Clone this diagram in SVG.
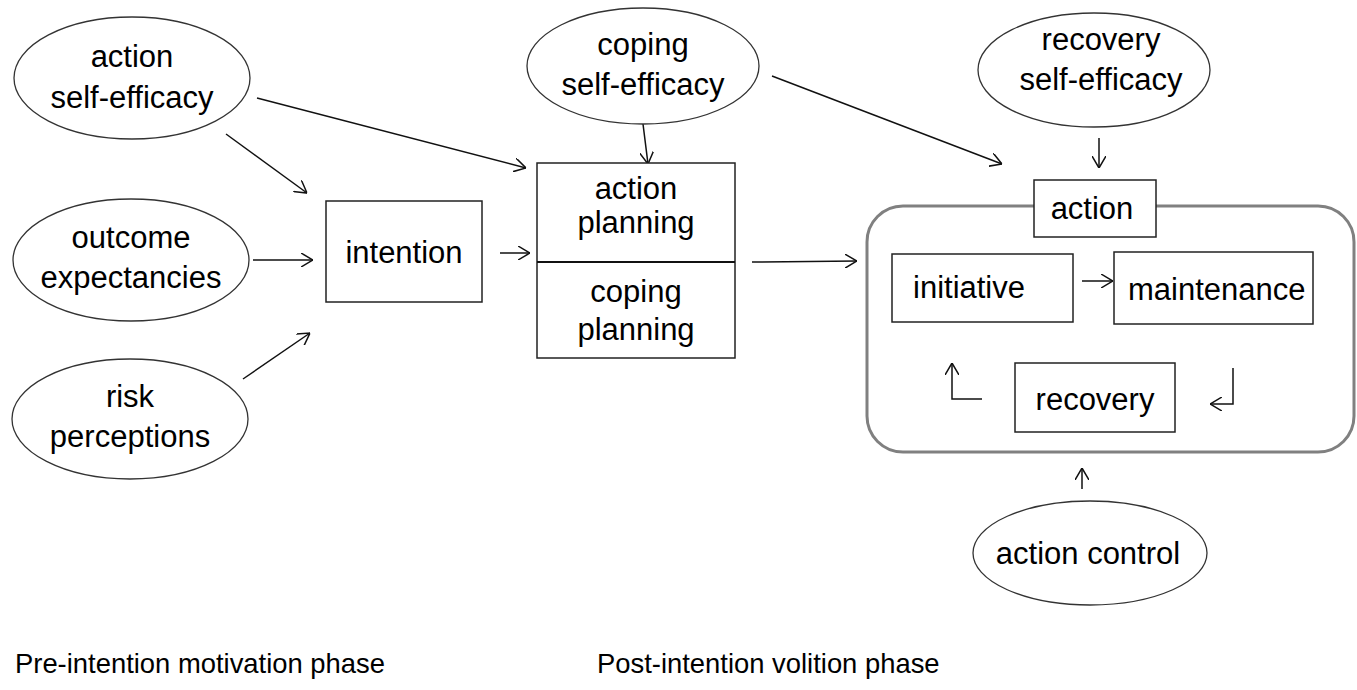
<svg xmlns="http://www.w3.org/2000/svg" width="1357" height="690" viewBox="0 0 1357 690">
<style>
  .ell { fill: #fff; stroke: #333; stroke-width: 1.3; }
  .box { fill: #fff; stroke: #222; stroke-width: 1.5; }
  .lbl { font-family: "Liberation Sans", Arial, sans-serif; font-size: 31px; fill: #000; text-anchor: middle; }
  .lbls { font-family: "Liberation Sans", Arial, sans-serif; font-size: 31px; fill: #000; text-anchor: start; }
  .phase { font-family: "Liberation Sans", Arial, sans-serif; font-size: 27.4px; fill: #000; }
  .con { fill: none; stroke: #111; stroke-width: 1.5; }
</style>
<defs>
  <marker id="arr" viewBox="0 0 12 14" refX="12" refY="7" markerWidth="12" markerHeight="14" markerUnits="userSpaceOnUse" orient="auto">
    <path d="M0,0 L12,7 L0,14" fill="none" stroke="#111" stroke-width="1.5"/>
  </marker>
</defs>
<rect width="1357" height="690" fill="#fff"/>

<g id="action-frame">
  <rect x="867" y="206" width="487" height="246" rx="36" ry="36" fill="#fff" stroke="#808080" stroke-width="3"/>
</g>

<g id="connectors">
  <line class="con" x1="226" y1="134" x2="307" y2="193" marker-end="url(#arr)"/>
  <line class="con" x1="253" y1="260" x2="313" y2="260" marker-end="url(#arr)"/>
  <line class="con" x1="243" y1="379" x2="310" y2="333" marker-end="url(#arr)"/>
  <line class="con" x1="257" y1="98" x2="526" y2="168" marker-end="url(#arr)"/>
  <line class="con" x1="643" y1="124" x2="648" y2="164" marker-end="url(#arr)"/>
  <line class="con" x1="500" y1="253" x2="530" y2="253" marker-end="url(#arr)"/>
  <line class="con" x1="752" y1="262" x2="857" y2="261" marker-end="url(#arr)"/>
  <line class="con" x1="772" y1="76" x2="1002" y2="164" marker-end="url(#arr)"/>
  <line class="con" x1="1099" y1="138" x2="1099" y2="168" marker-end="url(#arr)"/>
  <line class="con" x1="1082" y1="281" x2="1113" y2="281" marker-end="url(#arr)"/>
  <polyline class="con" points="982,399 952,399 952,363" marker-end="url(#arr)"/>
  <polyline class="con" points="1233,368 1233,404 1210,404" marker-end="url(#arr)"/>
  <line class="con" x1="1082" y1="489" x2="1082" y2="468" marker-end="url(#arr)"/>
</g>

<g id="action-self-efficacy">
  <ellipse class="ell" cx="132" cy="78" rx="118" ry="61"/>
  <text class="lbl" x="132" y="67">action</text>
  <text class="lbl" x="132" y="108">self-efficacy</text>
</g>
<g id="outcome-expectancies">
  <ellipse class="ell" cx="131" cy="260" rx="118" ry="61"/>
  <text class="lbl" x="131" y="248">outcome</text>
  <text class="lbl" x="131" y="288">expectancies</text>
</g>
<g id="risk-perceptions">
  <ellipse class="ell" cx="130" cy="419" rx="118" ry="60"/>
  <text class="lbl" x="130" y="407">risk</text>
  <text class="lbl" x="130" y="447">perceptions</text>
</g>
<g id="intention">
  <rect class="box" x="326" y="201" width="156" height="101"/>
  <text class="lbl" x="404" y="263">intention</text>
</g>
<g id="coping-self-efficacy">
  <ellipse class="ell" cx="643" cy="66" rx="116" ry="58"/>
  <text class="lbl" x="643" y="55">coping</text>
  <text class="lbl" x="643" y="95">self-efficacy</text>
</g>
<g id="planning">
  <rect class="box" x="537" y="163" width="198" height="195"/>
  <line x1="537" y1="262" x2="735" y2="262" stroke="#111" stroke-width="2"/>
  <text class="lbl" x="636" y="199">action</text>
  <text class="lbl" x="636" y="233">planning</text>
  <text class="lbl" x="636" y="302">coping</text>
  <text class="lbl" x="636" y="340">planning</text>
</g>
<g id="recovery-self-efficacy">
  <ellipse class="ell" cx="1094" cy="70" rx="116" ry="57"/>
  <text class="lbl" x="1101" y="50">recovery</text>
  <text class="lbl" x="1101" y="90">self-efficacy</text>
</g>
<g id="action">
  <rect class="box" x="1034" y="180" width="122" height="57"/>
  <text class="lbl" x="1092" y="219">action</text>
</g>
<g id="initiative">
  <rect class="box" x="892" y="254" width="181" height="68" stroke-width="1.2"/>
  <text class="lbls" x="913" y="298">initiative</text>
</g>
<g id="maintenance">
  <rect class="box" x="1114" y="252" width="199" height="72" stroke-width="1.2"/>
  <text class="lbls" x="1128" y="300">maintenance</text>
</g>
<g id="recovery">
  <rect class="box" x="1015" y="363" width="160" height="69" stroke-width="1.2"/>
  <text class="lbl" x="1095" y="410">recovery</text>
</g>
<g id="action-control">
  <ellipse class="ell" cx="1090" cy="553" rx="117" ry="52"/>
  <text class="lbl" x="1088" y="564">action control</text>
</g>
<g id="phase-labels">
  <text class="phase" x="15" y="673">Pre-intention motivation phase</text>
  <text class="phase" x="597" y="673">Post-intention volition phase</text>
</g>
</svg>
